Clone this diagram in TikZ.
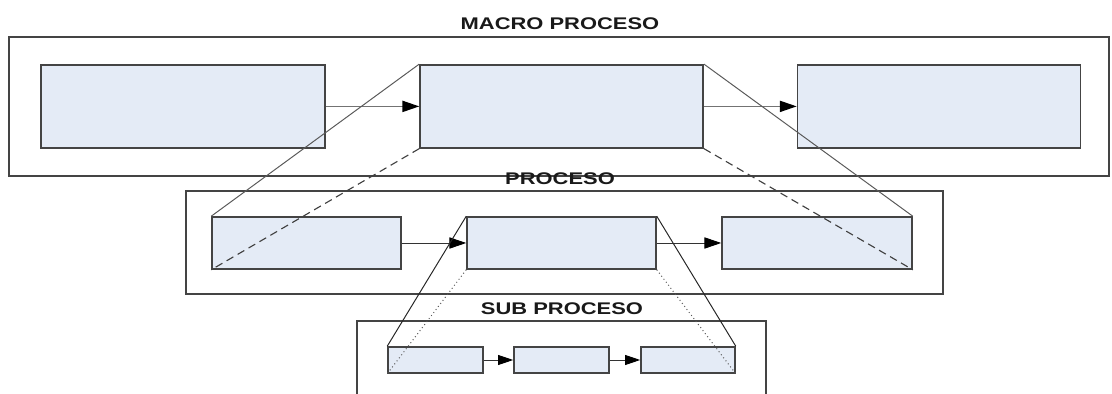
\documentclass[tikz,border=0pt]{standalone}
\usepackage{fontspec}
\setmainfont{Liberation Sans}
\usepackage{tikz}
\usepackage{xcolor}
\usetikzlibrary{arrows.meta}
\definecolor{boxfill}{HTML}{E4EBF6}
\definecolor{boxline}{HTML}{444444}
\tikzset{
    frame-box/.style = {draw=boxline, line width=0.9pt, rectangle, inner sep=0pt},
    process-box/.style = {draw=boxline, fill=boxfill, line width=1.1pt, rectangle, inner sep=0pt},
    level-title/.style = {font=\fontsize{12}{14}\selectfont\bfseries, text=black!90, xscale=1.3, inner sep=0pt},
    flow-arrow/.style = {draw=black!55, line width=0.9pt, -{Triangle[length=4.2mm, width=2.8mm, black]}},
    zoom-line/.style = {draw=black!65, line width=0.7pt},
    far-edge/.style = {draw=black!75, line width=0.8pt, dash pattern=on 5.5pt off 3.5pt},
}

\begin{document}
\begin{tikzpicture}
\useasboundingbox (0,0) rectangle (27.8,9.85);
\clip (0,0) rectangle (27.8,9.85);

% macro proceso
\node [level-title] (macro-title) at (14.0,9.25) {MACRO PROCESO};
\node [frame-box, minimum width=27.5cm, minimum height=3.475cm] (macro-frame) at (13.975,7.19) {};
\node [process-box, minimum width=7.1cm, minimum height=2.075cm] (macro-a) at (4.575,7.19) {};
\node [process-box, minimum width=7.08cm, minimum height=2.075cm] (macro-b) at (14.04,7.19) {};
\node [process-box, minimum width=7.08cm, minimum height=2.075cm] (macro-c) at (23.475,7.19) {};
\draw [flow-arrow] (macro-a) -- (macro-b);
\draw [flow-arrow] (macro-b) -- (macro-c);

% proceso
\node [level-title] (proc-title) at (14.0,5.375) {PROCESO};
\node [frame-box, minimum width=18.925cm, minimum height=2.575cm] (proc-frame) at (14.11,3.79) {};
\node [process-box, minimum width=4.725cm, minimum height=1.3cm] (proc-a) at (7.6625,3.775) {};
\node [process-box, minimum width=4.725cm, minimum height=1.3cm] (proc-b) at (14.0375,3.775) {};
\node [process-box, minimum width=4.75cm, minimum height=1.3cm] (proc-c) at (20.425,3.775) {};
\draw [flow-arrow, black!80, line width=0.7pt] (proc-a) -- (proc-b);
\draw [flow-arrow, black!80, line width=0.7pt] (proc-b) -- (proc-c);

% sub proceso
\node [level-title] (sub-title) at (14.05,2.125) {SUB PROCESO};
\node [frame-box, minimum width=10.225cm, minimum height=2.425cm] (sub-frame) at (14.0375,0.6125) {};
\node [process-box, minimum width=2.375cm, minimum height=0.65cm] (sub-a) at (10.8875,0.85) {};
\node [process-box, minimum width=2.375cm, minimum height=0.65cm] (sub-b) at (14.0375,0.85) {};
\node [process-box, minimum width=2.35cm, minimum height=0.65cm] (sub-c) at (17.2,0.85) {};
\draw [flow-arrow, black!80, line width=0.7pt, -{Triangle[length=3.8mm, width=2.5mm, black]}] (sub-a) -- (sub-b);
\draw [flow-arrow, black!80, line width=0.7pt, -{Triangle[length=3.8mm, width=2.5mm, black]}] (sub-b) -- (sub-c);

% zoom lines between levels
\draw [zoom-line] (macro-b.north west) -- (proc-a.north west);
\draw [far-edge] (macro-b.south west) -- (proc-a.south west);
\draw [zoom-line] (macro-b.north east) -- (proc-c.north east);
\draw [far-edge] (macro-b.south east) -- (proc-c.south east);
\draw [zoom-line, black!85] (proc-b.north west) -- (sub-a.north west);
\draw [zoom-line, dotted] (proc-b.south west) -- (sub-a.south west);
\draw [zoom-line, black!85] (proc-b.north east) -- (sub-c.north east);
\draw [zoom-line, dotted] (proc-b.south east) -- (sub-c.south east);
\end{tikzpicture}
\end{document}
